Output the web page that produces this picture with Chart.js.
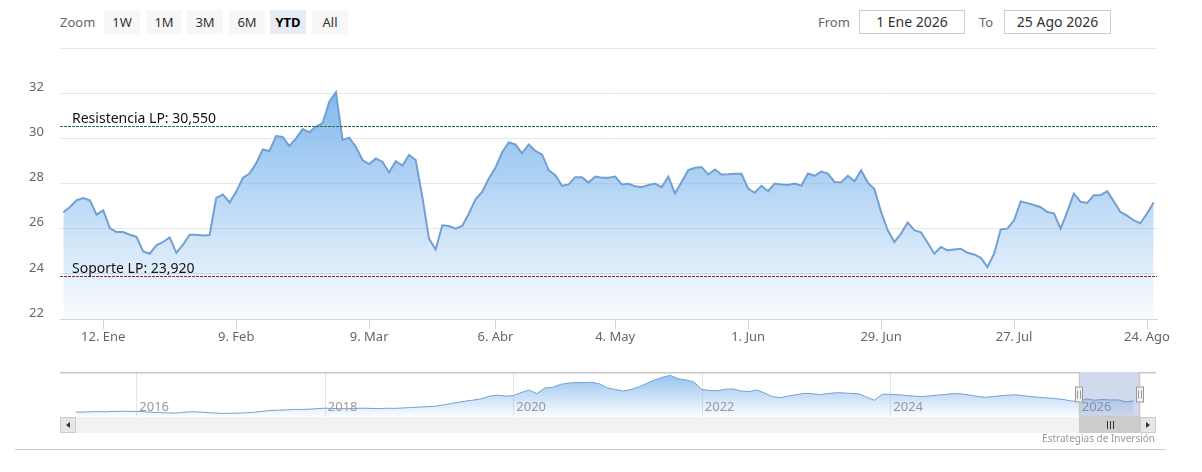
<!DOCTYPE html>
<html lang="es">
<head>
<meta charset="utf-8">
<title>Cotización YTD</title>
<script src="https://cdn.jsdelivr.net/npm/chart.js@4.4.1/dist/chart.umd.min.js"></script>
<style>
  html, body { margin: 0; padding: 0; background: #fff; }
  body { position: relative; width: 1202px; height: 472px; overflow: hidden;
         font-family: "Noto Sans", "DejaVu Sans", sans-serif; }
  .txt { position: absolute; top: 10px; line-height: 24px; font-size: 13px; color: #666; }
  .btn { position: absolute; top: 10px; width: 36px; height: 24px; line-height: 24px;
         text-align: center; font-size: 13px; color: #333; background: #f7f7f7; }
  .btn.on { background: #e6ebf5; color: #000; font-weight: bold; }
  .box { position: absolute; top: 10px; height: 22px; line-height: 22px; border: 1px solid #ccc;
         text-align: center; font-size: 14px; color: #333; }
  #credit { position: absolute; right: 47px; top: 431px; font-size: 10px; color: #999; }
  #rule { position: absolute; left: 15px; width: 1151px; top: 449px; border-top: 1px solid #ccc; }
  canvas { position: absolute; left: 0; }
</style>
</head>
<body>
<div class="txt" style="left:60px">Zoom</div>
<div class="btn" style="left:104px">1W</div>
<div class="btn" style="left:146px">1M</div>
<div class="btn" style="left:187px">3M</div>
<div class="btn" style="left:229px">6M</div>
<div class="btn on" style="left:270px">YTD</div>
<div class="btn" style="left:312px">All</div>
<div class="txt" style="left:818px">From</div>
<div class="box" style="left:859px; width:104px">1 Ene 2026</div>
<div class="txt" style="left:979px">To</div>
<div class="box" style="left:1004px; width:105px">25 Ago 2026</div>

<canvas id="main" width="1202" height="310" style="top:40px"></canvas>
<canvas id="nav" width="1202" height="61" style="top:372px"></canvas>
<div id="credit">Estrategias de Inversión</div>
<div id="rule"></div>

<script>
// trading sessions shown in the YTD window (holidays 1 Ene, 3 y 6 Abr, 1 May skipped)
const tradingDays = [
  ['2026-01', [2, 5, 6, 7, 8, 9, 12, 13, 14, 15, 16, 19, 20, 21, 22, 23, 26, 27, 28, 29, 30]],
  ['2026-02', [2, 3, 4, 5, 6, 9, 10, 11, 12, 13, 16, 17, 18, 19, 20, 23, 24, 25, 26, 27]],
  ['2026-03', [2, 3, 4, 5, 6, 9, 10, 11, 12, 13, 16, 17, 18, 19, 20, 23, 24, 25, 26, 27, 30, 31]],
  ['2026-04', [1, 2, 7, 8, 9, 10, 13, 14, 15, 16, 17, 20, 21, 22, 23, 24, 27, 28, 29, 30]],
  ['2026-05', [4, 5, 6, 7, 8, 11, 12, 13, 14, 15, 18, 19, 20, 21, 22, 25, 26, 27, 28, 29]],
  ['2026-06', [1, 2, 3, 4, 5, 8, 9, 10, 11, 12, 15, 16, 17, 18, 19, 22, 23, 24, 25, 26, 29, 30]],
  ['2026-07', [1, 2, 3, 6, 7, 8, 9, 10, 13, 14, 15, 16, 17, 20, 21, 22, 23, 24, 27, 28, 29, 30, 31]],
  ['2026-08', [3, 4, 5, 6, 7, 10, 11, 12, 13, 14, 17, 18, 19, 20, 21, 24, 25]]
];

// daily close, one row per month
const prices = [
  26.73, 26.96, 27.26, 27.36, 27.26, 26.62, 26.81, 26.03, 25.85, 25.85, 25.73, 25.64, 24.99, 24.89, 25.26, 25.41, 25.61, 24.93, 25.29, 25.73, 25.73,
  25.70, 25.72, 27.36, 27.51, 27.16, 27.63, 28.25, 28.44, 28.89, 29.51, 29.44, 30.10, 30.06, 29.66, 30.00, 30.41, 30.27, 30.52, 30.67, 31.62,
  32.04, 29.93, 30.03, 29.63, 29.04, 28.86, 29.11, 28.96, 28.49, 28.99, 28.79, 29.26, 29.04, 27.41, 25.56, 25.08, 26.15, 26.12, 26.00, 26.12, 26.67, 27.30,
  27.63, 28.22, 28.70, 29.38, 29.82, 29.73, 29.33, 29.73, 29.44, 29.29, 28.59, 28.37, 27.90, 27.96, 28.28, 28.28, 28.04, 28.31, 28.25, 28.25,
  28.31, 27.96, 27.99, 27.88, 27.84, 27.93, 28.00, 27.84, 28.30, 27.56, 28.07, 28.59, 28.70, 28.73, 28.40, 28.62, 28.40, 28.41, 28.43, 28.43,
  27.78, 27.59, 27.90, 27.66, 28.00, 27.96, 27.93, 28.00, 27.90, 28.44, 28.34, 28.53, 28.44, 28.07, 28.06, 28.34, 28.10, 28.59, 28.04, 27.75, 26.74, 25.93,
  25.41, 25.78, 26.27, 25.93, 25.84, 25.38, 24.89, 25.19, 25.04, 25.08, 25.11, 24.93, 24.86, 24.71, 24.30, 24.89, 25.97, 26.00, 26.37, 27.21, 27.13, 27.05, 26.95,
  26.74, 26.68, 26.00, 26.74, 27.56, 27.19, 27.14, 27.48, 27.48, 27.66, 27.21, 26.74, 26.58, 26.37, 26.24, 26.67, 27.16
];

const levelNames = ['Resistencia LP', 'Soporte LP'];
const levelValues = [30.55, 23.92];
const levelColors = ['#2b6e45', '#8a2a48'];

const tickDates = ['2026-01-12', '2026-02-09', '2026-03-09', '2026-04-06', '2026-05-04',
                   '2026-06-01', '2026-06-29', '2026-07-27', '2026-08-24'];
const monthNames = ['Ene', 'Feb', 'Mar', 'Abr', 'May', 'Jun', 'Jul', 'Ago', 'Sep', 'Oct', 'Nov', 'Dic'];

// navigator: monthly close from May 2015
const navStart = [2015, 5];
const navMonthly = [
  11.8, 11.6, 12.0, 12.3, 12.1, 12.5, 12.8, 12.6,
  12.7, 12.1, 11.4, 10.9, 10.5, 10.3, 11.3, 12.1, 11.7, 11.0, 10.3, 9.9,
  10.1, 10.3, 10.6, 11.4, 12.6, 13.8, 14.2, 14.6, 15.1, 15.3, 15.6, 16.3,
  16.9, 16.6, 16.2, 16.4, 16.7, 16.9, 16.6, 16.4, 16.9, 16.7, 17.3, 17.8,
  18.5, 18.9, 19.5, 21.2, 23.0, 24.9, 26.7, 28.1, 29.8, 33.3, 34.6, 33.3,
  33.9, 38.1, 41.6, 36.7, 44.2, 45.3, 49.2, 50.9, 51.7, 51.4, 52.0, 49.9,
  44.4, 42.3, 40.2, 42.3, 45.8, 50.6, 55.1, 59.0, 61.3, 56.9, 55.2, 52.4,
  42.3, 40.9, 40.5, 42.7, 43.0, 40.2, 39.5, 41.7, 37.4, 32.6, 31.2, 33.3,
  35.1, 37.0, 36.7, 35.3, 36.7, 37.8, 37.7, 37.0, 36.4, 31.9, 27.7, 35.9,
  35.8, 35.1, 34.2, 33.4, 32.6, 33.5, 34.6, 35.6, 36.7, 36.4, 34.9, 33.1,
  31.7, 32.7, 33.7, 34.6, 35.1, 33.7, 32.6, 31.7, 30.8, 29.9, 28.9, 26.7,
  25.9, 29.5, 27.8, 28.6, 28.1, 28.2, 25.5, 26.8
];
const navYears = [2016, 2018, 2020, 2022, 2024, 2026];
const navFrom = 2015.36, navTo = 2026.65;
const rangeFrom = 2026.0, rangeTo = 2026.65;

Chart.defaults.font.family = '"Noto Sans", "DejaVu Sans", sans-serif';
Chart.defaults.font.size = 13;
Chart.defaults.color = '#666';

const dates = [];
tradingDays.forEach(([m, days]) => days.forEach(d => dates.push(m + '-' + String(d).padStart(2, '0'))));

// ticks land on the first session on or after each tick date
const tickIdx = tickDates.map(t => dates.findIndex(d => d >= t));
function tickText(i) {
    const k = tickIdx.indexOf(i);
    if (k < 0) return '';
    const [, m, d] = tickDates[k].split('-');
    return parseInt(d, 10) + '. ' + monthNames[parseInt(m, 10) - 1];
}

function areaFill(context, top, strong, weak) {
    const { ctx, chartArea } = context.chart;
    if (!chartArea) return 'rgba(124,181,236,0.5)';
    const g = ctx.createLinearGradient(0, top(context.chart), 0, chartArea.bottom);
    g.addColorStop(0, 'rgba(124,181,236,' + strong + ')');
    g.addColorStop(1, 'rgba(124,181,236,' + weak + ')');
    return g;
}

// dashed support / resistance lines with their labels
const plotLines = {
    id: 'plotLines',
    afterDatasetsDraw(chart) {
        const { ctx, chartArea, scales: { y } } = chart;
        ctx.save();
        levelValues.forEach((v, i) => {
            const py = Math.round(y.getPixelForValue(v)) + 0.5;
            ctx.strokeStyle = levelColors[i];
            ctx.lineWidth = 1;
            ctx.setLineDash([3, 1]);
            ctx.beginPath();
            ctx.moveTo(chartArea.left, py);
            ctx.lineTo(chartArea.right, py);
            ctx.stroke();
            ctx.setLineDash([]);
            ctx.fillStyle = '#111';
            ctx.font = '14px "Noto Sans", "DejaVu Sans", sans-serif';
            ctx.textBaseline = 'alphabetic';
            ctx.fillText(levelNames[i] + ': ' + v.toFixed(3).replace('.', ','), chartArea.left + 12, py - 4);
        });
        ctx.restore();
    }
};

new Chart(document.getElementById('main'), {
    type: 'line',
    data: {
        labels: dates,
        datasets: [{
            data: prices,
            borderColor: '#72a0d4',
            borderWidth: 2,
            pointRadius: 0,
            tension: 0,
            fill: 'start',
            backgroundColor: c => areaFill(c, ch => ch.scales.y.getPixelForValue(Math.max(...prices)), 0.95, 0.04)
        }]
    },
    options: {
        responsive: false,
        animation: false,
        layout: { padding: { left: 29, right: 45, top: 8, bottom: 0 } },
        plugins: { legend: { display: false }, tooltip: { enabled: false } },
        scales: {
            x: {
                offset: true,
                grid: { offset: false, drawOnChartArea: false, tickLength: 10, color: '#ccd6eb' },
                border: { color: '#ccd6eb' },
                afterBuildTicks: s => { s.ticks = tickIdx.map(v => ({ value: v })); },
                afterFit: s => { s.height = 31; },
                ticks: { autoSkip: false, maxRotation: 0, padding: 0, color: '#666', callback: v => tickText(v) }
            },
            y: {
                min: 22,
                max: 34,
                grid: { color: '#e6e6e6', drawTicks: false },
                border: { display: false },
                afterFit: s => { s.width = 31; },
                ticks: { stepSize: 2, padding: 0, crossAlign: 'far', labelOffset: -6, color: '#666',
                         callback: v => (v === 34 ? '' : v) }
            }
        }
    },
    plugins: [plotLines]
});

// navigator: year grid, range mask, handles and scrollbar
const BTN = 16;
const navDecor = {
    id: 'navDecor',
    beforeDatasetsDraw(chart) {
        const { ctx, chartArea: a, scales: { x } } = chart;
        ctx.save();
        ctx.strokeStyle = '#e6e6e6';
        ctx.lineWidth = 1;
        navYears.forEach(yr => {
            const px = Math.round(x.getPixelForValue(yr)) + 0.5;
            ctx.beginPath();
            ctx.moveTo(px, a.top);
            ctx.lineTo(px, a.bottom);
            ctx.stroke();
        });
        ctx.restore();
    },
    afterDatasetsDraw(chart) {
        const { ctx, chartArea: a, scales: { x } } = chart;
        const x0 = Math.round(x.getPixelForValue(rangeFrom)), x1 = Math.round(x.getPixelForValue(rangeTo));
        const cy = (a.top + a.bottom) / 2;
        ctx.save();

        ctx.font = '13px "Noto Sans", "DejaVu Sans", sans-serif';
        ctx.fillStyle = '#999';
        ctx.textBaseline = 'middle';
        navYears.forEach(yr => ctx.fillText(String(yr), x.getPixelForValue(yr) + 3, a.bottom - 10));

        ctx.fillStyle = 'rgba(102,133,194,0.3)';
        ctx.fillRect(x0, a.top, x1 - x0, a.bottom - a.top);

        ctx.strokeStyle = '#c8c8c8';
        ctx.lineWidth = 1.5;
        ctx.beginPath();
        ctx.moveTo(a.left - BTN, a.top + 0.75);
        ctx.lineTo(x0 + 0.5, a.top + 0.75);
        ctx.lineTo(x0 + 0.5, a.bottom - 0.5);
        ctx.lineTo(x1 - 0.5, a.bottom - 0.5);
        ctx.lineTo(x1 - 0.5, a.top + 0.75);
        ctx.lineTo(a.right + BTN, a.top + 0.75);
        ctx.stroke();
        ctx.lineWidth = 1;

        // scrollbar track, thumb and buttons
        const sy = a.bottom;
        ctx.fillStyle = '#f2f2f2';
        ctx.fillRect(a.left - BTN, sy, a.right - a.left + 2 * BTN, BTN);
        ctx.fillStyle = '#cccccc';
        ctx.fillRect(x0, sy, x1 - x0, BTN);
        ctx.strokeStyle = '#333';
        const cx = (x0 + x1) / 2;
        [-3, 0, 3].forEach(d => {
            ctx.beginPath();
            ctx.moveTo(Math.round(cx + d) + 0.5, sy + 4);
            ctx.lineTo(Math.round(cx + d) + 0.5, sy + 12);
            ctx.stroke();
        });
        [[a.left - BTN, -1], [a.right, 1]].forEach(([bx, dir]) => {
            ctx.fillStyle = '#e6e6e6';
            ctx.fillRect(bx, sy, BTN, BTN);
            ctx.strokeStyle = '#cccccc';
            ctx.strokeRect(bx + 0.5, sy + 0.5, BTN - 1, BTN - 1);
            const bc = bx + BTN / 2, bm = sy + BTN / 2;
            ctx.fillStyle = '#333';
            ctx.beginPath();
            ctx.moveTo(bc - 2 * dir, bm - 3);
            ctx.lineTo(bc + 2 * dir, bm);
            ctx.lineTo(bc - 2 * dir, bm + 3);
            ctx.closePath();
            ctx.fill();
        });

        // range handles
        [x0, x1].forEach(hx => {
            ctx.fillStyle = '#f2f2f2';
            ctx.strokeStyle = '#999';
            ctx.fillRect(hx - 4, cy - 8, 8, 16);
            ctx.strokeRect(hx - 3.5, cy - 7.5, 7, 15);
            [-1.5, 1.5].forEach(d => {
                ctx.beginPath();
                ctx.moveTo(hx + d, cy - 4);
                ctx.lineTo(hx + d, cy + 4);
                ctx.stroke();
            });
        });
        ctx.restore();
    }
};

new Chart(document.getElementById('nav'), {
    type: 'line',
    data: {
        datasets: [{
            data: navMonthly.map((v, i) => ({ x: navStart[0] + (navStart[1] - 1 + i) / 12, y: v })),
            borderColor: '#72a0d4',
            borderWidth: 1,
            pointRadius: 0,
            tension: 0,
            fill: 'start',
            backgroundColor: c => areaFill(c, ch => ch.chartArea.top, 0.85, 0.03)
        }]
    },
    options: {
        responsive: false,
        animation: false,
        layout: { padding: { left: 76, right: 62, top: 0, bottom: BTN } },
        plugins: { legend: { display: false }, tooltip: { enabled: false } },
        scales: {
            x: { type: 'linear', min: navFrom, max: navTo, display: false },
            y: { min: 5, max: 66, display: false }
        }
    },
    plugins: [navDecor]
});
</script>
</body>
</html>
